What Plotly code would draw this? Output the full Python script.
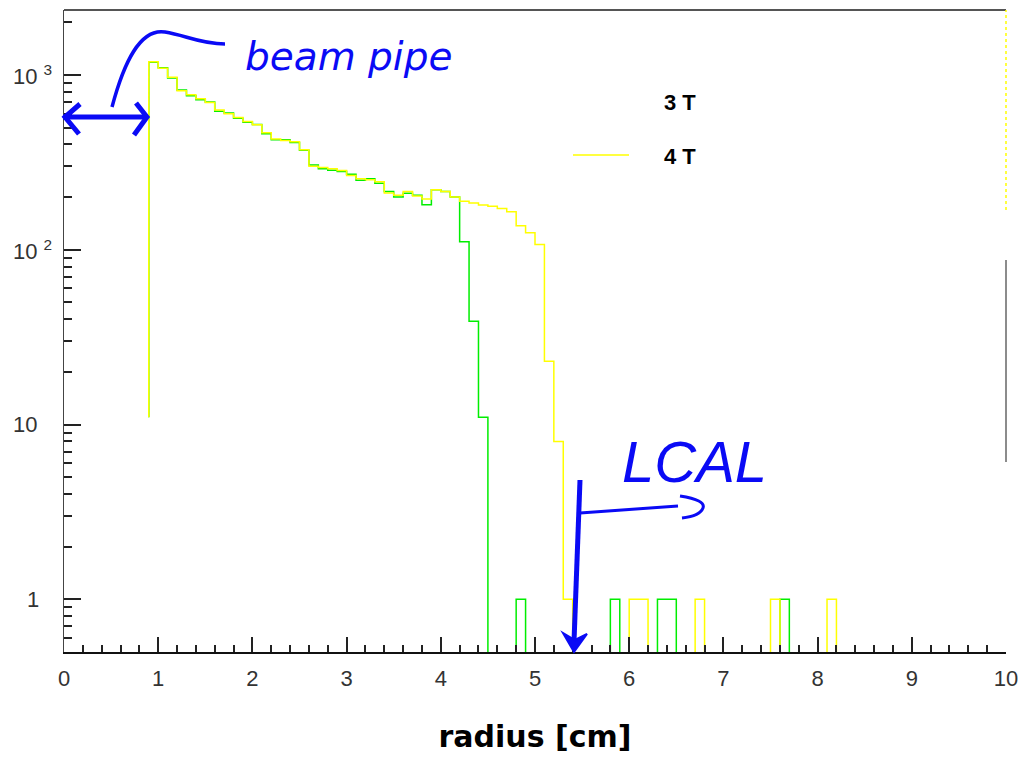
import numpy as np
import plotly.graph_objects as go

# ---------------- data ----------------
bin_width = 0.1
first_edge = 0.9
last_edge = 10.0

# 4 T histogram: counts per 0.1 cm bin starting at 0.9 cm (0.9 ... 5.3)
counts_4T_main = [1190, 1090, 970, 810, 770, 730, 694, 630, 600, 570,
                  541, 518, 466, 430, 421, 415, 373, 300, 295, 290,
                  284, 266, 255, 251, 245, 211, 205, 215, 203, 195,
                  220, 215, 200, 189, 185, 180, 177, 172, 165, 137,
                  125, 107, 23, 8, 1]
single_hits_4T = [6.0, 6.1, 6.7, 7.5, 8.1]      # bins holding one entry

# 3 T histogram: counts per 0.1 cm bin starting at 0.9 cm (0.9 ... 4.4)
counts_3T_main = [1180, 1100, 960, 820, 760, 720, 700, 620, 605, 565,
                  535, 520, 460, 425, 425, 410, 370, 305, 290, 285,
                  280, 270, 250, 255, 240, 215, 200, 210, 205, 181,
                  220, 215, 200, 111, 39, 11]
single_hits_3T = [4.8, 5.8, 6.3, 6.4, 7.6]

entry_level = 11          # level where the first vertical edge starts

series_names = ["3 T", "4 T"]
series_colors = ["#00ee00", "#ffff00"]

x_tick_vals = list(range(0, 11))
y_tick_vals = [1, 10, 100, 1000]
y_tick_text = ["1", "10", "10 <sup>2</sup>", "10 <sup>3</sup>"]

# ---------------- layout helpers ----------------
W, H = 1022, 757
L, R, T, B = 64, 1006, 10, 652      # plot area in pixels


def P(px, py):
    return (px - L) / (R - L), (B - py) / (B - T)


def path(cmds):
    out = []
    for c in cmds:
        if isinstance(c, str):
            out.append(c)
        else:
            x, y = P(*c)
            out.append(f"{x:.5f},{y:.5f}")
    return " ".join(out)


n_bins = int(round((last_edge - first_edge) / bin_width))
left_edges = np.round(first_edge + bin_width * np.arange(n_bins), 1)


def full_counts(main, singles):
    c = np.zeros(n_bins)
    c[:len(main)] = main
    for s in singles:
        c[int(round((s - first_edge) / bin_width))] = 1
    return c


def step_xy(counts):
    xs = np.concatenate([[first_edge], left_edges, [last_edge]])
    ys = np.concatenate([[entry_level], counts, [counts[-1]]])
    ys = np.where(ys > 0, ys, 0.05)   # empty bins lie below the axis floor
    return xs, ys


fig = go.Figure()
for name, main, singles, col in [
        (series_names[0], counts_3T_main, single_hits_3T, series_colors[0]),
        (series_names[1], counts_4T_main, single_hits_4T, series_colors[1])]:
    xs, ys = step_xy(full_counts(main, singles))
    fig.add_trace(go.Scatter(x=xs, y=ys, mode="lines", name=name,
                             line=dict(color=col, width=1.5, shape="hv"),
                             showlegend=False, hoverinfo="skip"))

minor_y = [0.6, 0.7, 0.8, 0.9] + [m * 10 ** d for d in range(0, 3) for m in range(2, 10)] + [2000]

fig.update_layout(
    width=W, height=H,
    margin=dict(l=L, r=W - R, t=T, b=H - B, pad=0, autoexpand=False),
    paper_bgcolor="white", plot_bgcolor="white",
    font=dict(family="Liberation Sans", color="#222222"),
    xaxis=dict(range=[0, 10], tickvals=x_tick_vals, ticks="inside",
               ticklen=15, tickwidth=1.5, tickcolor="#222",
               minor=dict(dtick=0.2, ticks="inside", ticklen=7,
                          tickwidth=1.5, tickcolor="#222"),
               showline=True, linecolor="#111", linewidth=2,
               showgrid=False, zeroline=False, automargin=False,
               tickfont=dict(size=22, family="Liberation Sans", color="#333"),
               ticklabelstandoff=6,
               title=dict(text="radius [cm]", standoff=36,
                          font=dict(family="DejaVu Sans", size=30,
                                    color="black", weight="bold"))),
    yaxis=dict(type="log", range=[np.log10(0.5), np.log10(2350)],
               tickvals=y_tick_vals, showticklabels=False,
               ticks="inside", ticklen=17, tickwidth=1.5, tickcolor="#222",
               minor=dict(tickvals=minor_y, ticks="inside", ticklen=8,
                          tickwidth=1.5, tickcolor="#222"),
               showline=True, linecolor="#444", linewidth=1,
               showgrid=False, zeroline=False, automargin=False),
)

annotations = []
# y tick labels
label_left_px = [25, 11, 11, 11]
for v, t, lx in zip(y_tick_vals, y_tick_text, label_left_px):
    annotations.append(dict(xref="paper", yref="y", x=P(lx, 0)[0], y=np.log10(v),
                            text=t, showarrow=False, xanchor="left", yanchor="middle",
                            font=dict(size=22, family="Liberation Sans", color="#333")))
# legend texts
for name, py in zip(series_names, [103, 156]):
    x, y = P(680, py)
    annotations.append(dict(xref="paper", yref="paper", x=x, y=y, text=f"<b>{name}</b>",
                            showarrow=False, xanchor="center", yanchor="middle",
                            font=dict(size=22, family="Liberation Sans", color="black")))
# hand-written labels
x, y = P(348, 56)
annotations.append(dict(xref="paper", yref="paper", x=x, y=y, text="<i>beam pipe</i>",
                        showarrow=False, xanchor="center", yanchor="middle",
                        font=dict(size=39, family="DejaVu Sans", color="#0a0af5")))
x, y = P(694, 461)
annotations.append(dict(xref="paper", yref="paper", x=x, y=y, text="<i>LCAL</i>",
                        showarrow=False, xanchor="center", yanchor="middle",
                        font=dict(size=58, family="Liberation Sans", color="#0a0af5")))
fig.update_layout(annotations=annotations)

blue = "#0a0af5"
shapes = []
# frame: top and right borders
x0, y0 = P(L, T)
x1, y1 = P(R, T)
shapes.append(dict(type="line", xref="paper", yref="paper", x0=x0, y0=y0, x1=x1, y1=y1,
                   line=dict(color="#555", width=2)))
xa, ya = P(R, 462)
xb, yb = P(R, 260)
shapes.append(dict(type="line", xref="paper", yref="paper", x0=xa, y0=ya, x1=xb, y1=yb,
                   line=dict(color="#666", width=1.5)))
xa, ya = P(R, 210)
xb, yb = P(R, T)
shapes.append(dict(type="line", xref="paper", yref="paper", x0=xa, y0=ya, x1=xb, y1=yb,
                   line=dict(color="#ffff00", width=1.5, dash="dot")))
# legend sample line for 4 T
xa, ya = P(573, 155)
xb, yb = P(629, 155)
shapes.append(dict(type="line", xref="paper", yref="paper", x0=xa, y0=ya, x1=xb, y1=yb,
                   line=dict(color="#ffff00", width=1.5)))

# beam pipe double arrow + connector curve
for cmds, w in [
        (["M", (63, 117), "L", (148, 117)], 5),
        (["M", (80, 104), "L", (65, 117), "L", (79, 134)], 5),
        (["M", (136, 103), "L", (147, 117), "L", (134, 135)], 5),
        (["M", (112, 107), "C", (124, 62), (140, 28), (165, 32),
          "C", (185, 35), (200, 44), (225, 44)], 3.5),
        # LCAL arrows
        (["M", (580, 480), "L", (574, 642)], 5),
        (["M", (580, 513), "L", (678, 506)], 3),
        (["M", (680, 496), "Q", (706, 500), (703, 508), "Q", (700, 516), (682, 518)], 3)]:
    shapes.append(dict(type="path", xref="paper", yref="paper", path=path(cmds),
                       line=dict(color=blue, width=w)))
shapes.append(dict(type="path", xref="paper", yref="paper",
                   path=path(["M", (563, 633), "L", (574, 652), "L", (587, 634), "L", (575, 640), "Z"]),
                   fillcolor=blue, line=dict(color=blue, width=2)))
fig.update_layout(shapes=shapes)

fig.write_html("out.html")
